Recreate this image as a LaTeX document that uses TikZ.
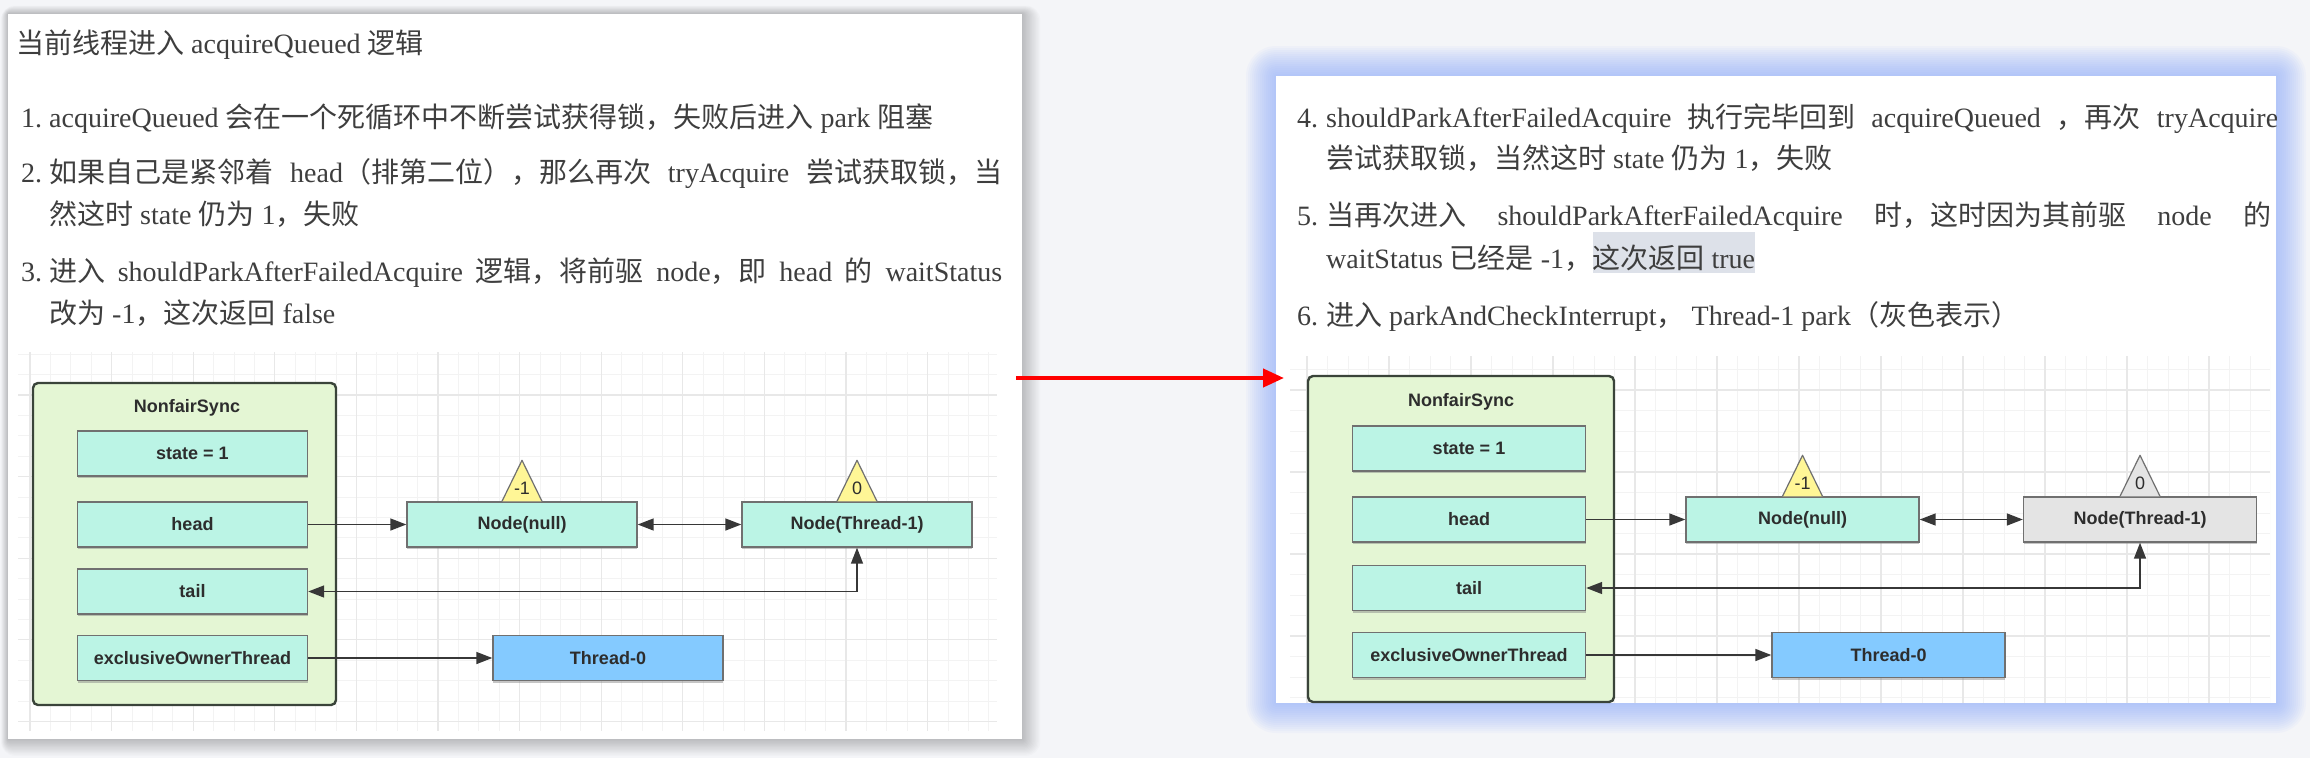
\documentclass[tikz,border=0pt]{standalone}
\usepackage{fontspec}
\setmainfont{Liberation Serif}
\newfontfamily\cjk{Noto Sans CJK SC}
\newfontfamily\dgmfont{Liberation Sans}
\usetikzlibrary{arrows.meta,shadows}
\definecolor{bgc}{RGB}{244,245,248}
\definecolor{txtc}{RGB}{62,62,62}
\definecolor{mint}{RGB}{187,244,229}
\definecolor{lgreen}{RGB}{228,246,212}
\definecolor{dborder}{RGB}{58,68,58}
\definecolor{fborder}{RGB}{112,112,112}
\definecolor{tblue}{RGB}{132,202,255}
\definecolor{tyellow}{RGB}{255,246,150}
\definecolor{ngrey}{RGB}{228,228,228}
\definecolor{glowc}{RGB}{140,172,255}
\definecolor{hlc}{RGB}{221,225,233}
\definecolor{gminor}{RGB}{243,243,243}
\definecolor{gmajor}{RGB}{232,232,232}
\definecolor{arrc}{RGB}{55,55,55}
\definecolor{dtext}{RGB}{45,45,45}
\begin{document}
\begin{tikzpicture}[x=1pt,y=-1pt,
  txt/.style={anchor=base west, inner sep=0pt, text=txtc, font=\fontsize{28}{28}\selectfont},
  dgm/.style={font=\dgmfont\bfseries\fontsize{18}{18}\selectfont, text=dtext},
  fieldbox/.style={dgm, draw=fborder, fill=mint, line width=1.4pt, minimum width=230pt, minimum height=45pt, inner sep=0pt,
    drop shadow={shadow xshift=0pt, shadow yshift=-2pt, fill=black!50, opacity=0.45}},
  nsbox/.style={draw=dborder, fill=lgreen, line width=2.4pt, rounded corners=5pt, inner sep=0pt},
  tri/.style={draw=fborder, line width=1.2pt, line join=round},
  trilbl/.style={font=\dgmfont\fontsize{18}{18}\selectfont, text=dtext, inner sep=0pt},
  tipA/.tip={Triangle[length=16pt,width=12pt]},
  conn/.style={draw=arrc, line width=1.5pt},
  redarrow/.style={draw=red, line width=4.2pt, -{Triangle[length=21pt,width=18pt]}}
]
\useasboundingbox (0,0) rectangle (2310,758);
\fill[bgc] (0,0) rectangle (2310,758);

% ---------- left card shadow and card ----------
\foreach \i in {1,...,14} {
  \fill[black, opacity=0.014, rounded corners={\i*1pt}] ({8-0.5*\i},{14-0.6*\i}) rectangle ({1022+1.3*\i},{739+1.2*\i});
}
\fill[white] (8,14) rectangle (1022,739);

% ---------- right card glow and card ----------
\foreach \i in {1,...,15} {
  \fill[glowc, opacity=0.055, rounded corners={2*\i*1pt}] ({1276-2*\i},{76-2*\i}) rectangle ({2276+2*\i},{703+2*\i});
}
\fill[white] (1276,76) rectangle (2276,703);

% ---------- left grid ----------
\begin{scope}
\clip (18,352) rectangle (997,731);
\foreach \k in {-1,...,47} \draw[gminor, line width=1pt] ({30+20.4*\k},352) -- ({30+20.4*\k},731);
\foreach \k in {0,...,18} \draw[gminor, line width=1pt] (18,{354.2+20.4*\k}) -- (997,{354.2+20.4*\k});
\foreach \k in {0,...,11} \draw[gmajor, line width=1.1pt] ({30+81.6*\k},352) -- ({30+81.6*\k},731);
\foreach \k in {0,...,4} \draw[gmajor, line width=1.1pt] (18,{395+81.6*\k}) -- (997,{395+81.6*\k});
\end{scope}

% ---------- right grid ----------
\begin{scope}
\clip (1290,356) rectangle (2270,703);
\foreach \k in {-1,...,47} \draw[gminor, line width=1pt] ({1307+20.5*\k},356) -- ({1307+20.5*\k},703);
\foreach \k in {-2,...,15} \draw[gminor, line width=1pt] (1290,{390+20.5*\k}) -- (2270,{390+20.5*\k});
\foreach \k in {0,...,11} \draw[gmajor, line width=1.1pt] ({1307+82*\k},356) -- ({1307+82*\k},703);
\foreach \k in {0,...,4} \draw[gmajor, line width=1.1pt] (1290,{390+82*\k}) -- (2270,{390+82*\k});
\end{scope}

% ---------- left text ----------
\node[txt] (title) at (16,53) {{\cjk 当前线程进入} acquireQueued {\cjk 逻辑}};
\node[txt] (n1) at (21,127) {1.};
\node[txt] (l1) at (49,127) {acquireQueued {\cjk 会在一个死循环中不断尝试获得锁，失败后进入} park {\cjk 阻塞}};
\node[txt] (n2) at (21,182) {2.};
\node[txt] (l2a) at (49,182) {\makebox[953pt][s]{{\cjk 如果自己是紧邻着} head{\cjk （排第二位），那么再次} tryAcquire {\cjk 尝试获取锁，当}}};
\node[txt] (l2b) at (49,224) {{\cjk 然这时} state {\cjk 仍为} 1{\cjk ，失败}};
\node[txt] (n3) at (21,281) {3.};
\node[txt] (l3a) at (49,281) {\makebox[953pt][s]{{\cjk 进入} shouldParkAfterFailedAcquire {\cjk 逻辑，将前驱} node{\cjk ，即} head {\cjk 的} waitStatus}};
\node[txt] (l3b) at (49,323) {{\cjk 改为} -1{\cjk ，这次返回} false};

% ---------- left diagram ----------
\node[nsbox, minimum width=303pt, minimum height=322pt] (nsL) at (184.5,544) {};
\node[dgm] (nsLt) at (187,408) {NonfairSync};
\node[fieldbox] (stL) at (192.5,453.5) {state = 1};
\node[fieldbox] (hdL) at (192.5,524.5) {head};
\node[fieldbox] (tlL) at (192.5,591.5) {tail};
\node[fieldbox] (eoL) at (192.5,658) {exclusiveOwnerThread};
\node[fieldbox] (nnL) at (522,524.5) {Node(null)};
\node[fieldbox] (ntL) at (857,524.5) {Node(Thread-1)};
\node[fieldbox, fill=tblue] (t0L) at (608,658) {Thread-0};
\filldraw[tri, fill=tyellow] ([xshift=-20pt]nnL.north) -- ([yshift=41pt]nnL.north) -- ([xshift=20pt]nnL.north);
\node[trilbl] at ([yshift=13pt]nnL.north) {-1};
\filldraw[tri, fill=tyellow] ([xshift=-20pt]ntL.north) -- ([yshift=41pt]ntL.north) -- ([xshift=20pt]ntL.north);
\node[trilbl] at ([yshift=13pt]ntL.north) {0};
\draw[conn, -tipA] (hdL.east) -- (nnL.west);
\draw[conn, tipA-tipA] (nnL.east) -- (ntL.west);
\draw[conn, tipA-tipA] (tlL.east) -- (ntL.south |- tlL.east) -- (ntL.south);
\draw[conn, -tipA] (eoL.east) -- (t0L.west);

% ---------- red arrow ----------
\coordinate (rs) at (1016,378);
\coordinate (re) at (1284,378);
\draw[redarrow] (rs) -- (re);

% ---------- right card content ----------
\begin{scope}
\clip (1276,76) rectangle (2276,703);
\node[txt] (n4) at (1297,127) {4.};
\node[txt] (l4a) at (1326,127) {\makebox[952pt][s]{shouldParkAfterFailedAcquire {\cjk 执行完毕回到} acquireQueued {\cjk ，再次} tryAcquire}};
\node[txt] (l4b) at (1326,168) {{\cjk 尝试获取锁，当然这时} state {\cjk 仍为} 1{\cjk ，失败}};
\node[txt] (n5) at (1297,225) {5.};
\node[txt] (l5a) at (1326,225) {\makebox[945pt][s]{{\cjk 当再次进入} shouldParkAfterFailedAcquire {\cjk 时，这时因为其前驱} node {\cjk 的}}};
\node[txt] (l5b) at (1326,268) {waitStatus {\cjk 已经是} -1{\cjk ，}};
\node[txt, fill=hlc, text height=36pt, text depth=5pt] (l5c) at (l5b.base east) {{\cjk 这次返回} true};
\node[txt] (n6) at (1297,325) {6.};
\node[txt] (l6) at (1326,325) {{\cjk 进入} parkAndCheckInterrupt{\cjk ，} Thread-1 park{\cjk （灰色表示）}};

\node[nsbox, minimum width=306pt, minimum height=326pt] (nsR) at (1461,539) {};
\node[dgm] (nsRt) at (1461,402) {NonfairSync};
\node[fieldbox, minimum width=233pt] (stR) at (1469,448.5) {state = 1};
\node[fieldbox, minimum width=233pt] (hdR) at (1469,519.5) {head};
\node[fieldbox, minimum width=233pt] (tlR) at (1469,588) {tail};
\node[fieldbox, minimum width=233pt] (eoR) at (1469,655) {exclusiveOwnerThread};
\node[fieldbox, minimum width=233pt] (nnR) at (1802.5,519.5) {Node(null)};
\node[fieldbox, minimum width=233pt, fill=ngrey] (ntR) at (2140,519.5) {Node(Thread-1)};
\node[fieldbox, minimum width=233pt, fill=tblue] (t0R) at (1888.5,655) {Thread-0};
\filldraw[tri, fill=tyellow] ([xshift=-20pt]nnR.north) -- ([yshift=41pt]nnR.north) -- ([xshift=20pt]nnR.north);
\node[trilbl] at ([yshift=13pt]nnR.north) {-1};
\filldraw[tri, fill=ngrey] ([xshift=-20pt]ntR.north) -- ([yshift=41pt]ntR.north) -- ([xshift=20pt]ntR.north);
\node[trilbl] at ([yshift=13pt]ntR.north) {0};
\draw[conn, -tipA] (hdR.east) -- (nnR.west);
\draw[conn, tipA-tipA] (nnR.east) -- (ntR.west);
\draw[conn, tipA-tipA] (tlR.east) -- (ntR.south |- tlR.east) -- (ntR.south);
\draw[conn, -tipA] (eoR.east) -- (t0R.west);
\end{scope}
\end{tikzpicture}
\end{document}
